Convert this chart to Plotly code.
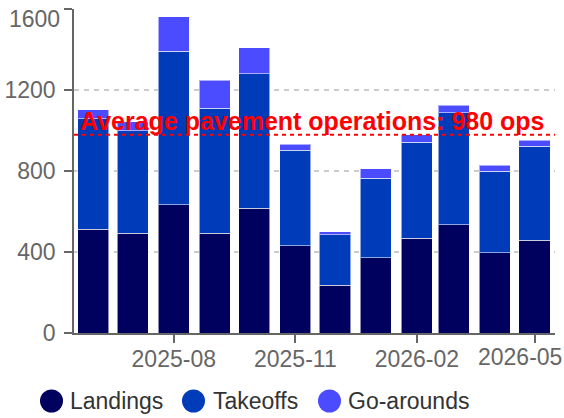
import plotly.graph_objects as go

months = ["2025-06", "2025-07", "2025-08", "2025-09", "2025-10", "2025-11",
          "2025-12", "2026-01", "2026-02", "2026-03", "2026-04", "2026-05"]
landings = [513, 493, 633, 493, 617, 430, 237, 372, 467, 534, 397, 457]
takeoffs = [545, 507, 758, 617, 664, 472, 248, 393, 476, 553, 403, 465]
go_arounds = [45, 42, 170, 138, 127, 31, 16, 45, 36, 37, 29, 31]

series_names = ["Landings", "Takeoffs", "Go-arounds"]
series_colors = ["#00005e", "#003bba", "#4b4bff"]
y_ticks = [0, 400, 800, 1200, 1600]
x_ticks = ["2025-08", "2025-11", "2026-02", "2026-05"]

pavement = [l + t for l, t in zip(landings, takeoffs)]
avg_ops = sum(pavement) / len(pavement)
avg_label = f"Average pavement operations: {int(round(avg_ops, -1))} ops"

FONT = "Liberation Sans, Arial, sans-serif"
TICK_COLOR = "#666666"

fig = go.Figure()
for name, vals, col in zip(series_names, [landings, takeoffs, go_arounds], series_colors):
    fig.add_trace(go.Bar(
        x=months, y=vals, name=name, showlegend=False,
        marker=dict(color=col, line=dict(color="rgba(255,255,255,0.55)", width=1)),
    ))

# red average line
fig.add_shape(type="line", xref="paper", x0=0, x1=1, yref="y", y0=avg_ops, y1=avg_ops,
              line=dict(color="#ff0000", width=2, dash="4px,4px"), layer="above")
fig.add_annotation(text=f"<b>{avg_label}</b>", xref="paper", x=0.009, xanchor="left",
                   yref="y", y=avg_ops, yanchor="bottom", yshift=-2, showarrow=False,
                   font=dict(family=FONT, size=25, color="#ff0000"))

# top y tick label (flushed inside the axis extent)
fig.add_annotation(text=str(y_ticks[-1]), xref="paper", x=0, xanchor="right", xshift=-12,
                   yref="y", y=y_ticks[-1], yanchor="middle", yshift=-10, showarrow=False,
                   font=dict(family=FONT, size=23, color=TICK_COLOR))
# last x tick label (flushed inside the canvas)
fig.add_annotation(text=x_ticks[-1], xref="paper", x=1, xanchor="right", xshift=9,
                   yref="paper", y=0, yanchor="top", yshift=-9, showarrow=False,
                   font=dict(family=FONT, size=23, color=TICK_COLOR))

# custom legend with large circles
PW = 481.0
PH = 324.0
leg_circle_px = [51.5, 193.5, 329.5]
leg_text_px = [67.5, 211, 346]
leg_y = (333 - 401) / PH
for name, col, cx, tx in zip(series_names, series_colors, leg_circle_px, leg_text_px):
    fig.add_shape(type="circle", xref="paper", yref="paper",
                  xsizemode="pixel", ysizemode="pixel",
                  xanchor=(cx - 74) / PW, yanchor=leg_y,
                  x0=-11.5, x1=11.5, y0=-11.5, y1=11.5,
                  fillcolor=col, line=dict(width=0))
    fig.add_annotation(text=name, xref="paper", yref="paper", x=(tx - 74) / PW, y=leg_y,
                       xanchor="left", yanchor="middle", showarrow=False,
                       font=dict(family=FONT, size=23, color="#333333"))

fig.update_layout(
    width=564, height=418,
    margin=dict(l=74, r=9, t=9, b=85, autoexpand=False),
    barmode="stack", bargap=0.16,
    plot_bgcolor="white", paper_bgcolor="white",
    font=dict(family=FONT, size=23, color=TICK_COLOR),
    showlegend=False,
)
fig.update_xaxes(
    type="date", range=["2025-05-17 12:00", "2026-05-16 12:00"],
    tickvals=[m + "-01" for m in x_ticks],
    ticktext=x_ticks[:-1] + [""],
    ticks="outside", ticklen=8, tickwidth=1.5, tickcolor=TICK_COLOR,
    showline=True, linecolor=TICK_COLOR, linewidth=1.5,
    showgrid=False, zeroline=False, automargin=False, ticklabelstandoff=-3,
    tickfont=dict(family=FONT, size=23, color=TICK_COLOR),
)
fig.update_yaxes(
    range=[0, 1600], tickvals=y_ticks,
    ticktext=[str(v) for v in y_ticks[:-1]] + [""],
    ticks="outside", ticklen=8, tickwidth=1.5, tickcolor=TICK_COLOR,
    showline=True, linecolor=TICK_COLOR, linewidth=1.5,
    showgrid=True, gridcolor="#cccccc", gridwidth=1.5, griddash="5px,5px",
    zeroline=False, ticklabelstandoff=4, automargin=False,
    tickfont=dict(family=FONT, size=23, color=TICK_COLOR),
)

fig.write_html("out.html", config={"displayModeBar": False},
               post_script="document.body.style.margin='0';document.body.style.overflow='hidden';")
